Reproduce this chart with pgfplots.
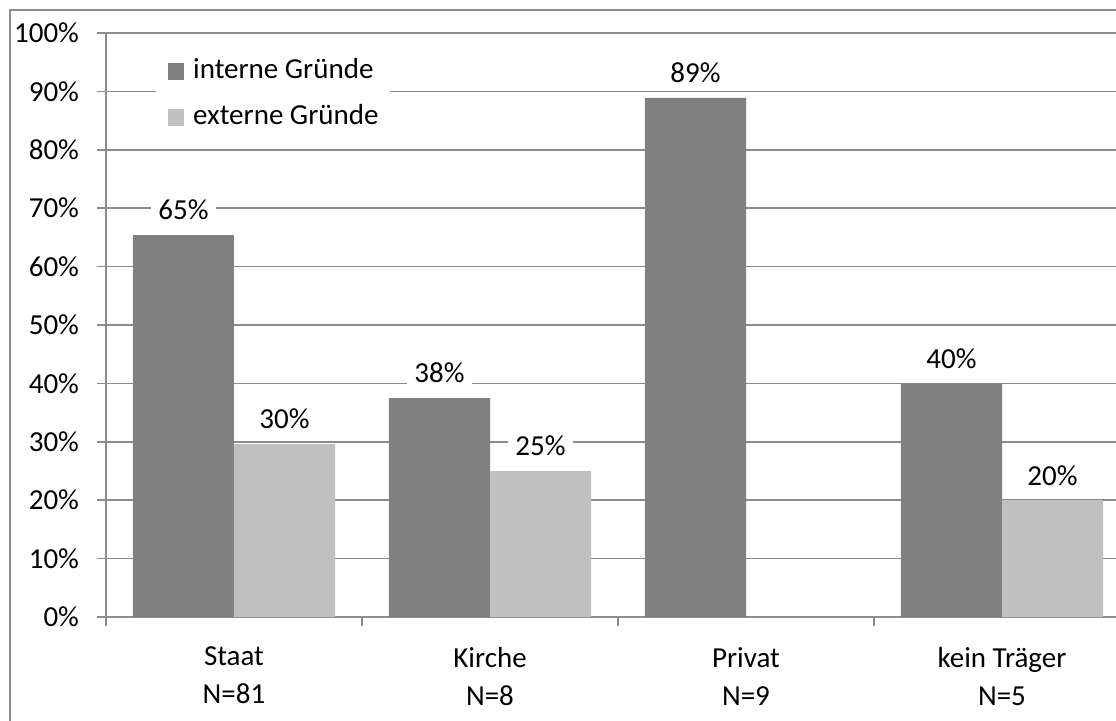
\documentclass[border=0pt]{standalone}
\usepackage{pgfplots}
\pgfplotsset{compat=1.18}
\usepackage{fontspec}
\setmainfont{Carlito}

\definecolor{intern}{RGB}{128,128,128}
\definecolor{extern}{RGB}{192,192,192}
\definecolor{gridgray}{RGB}{140,140,140}

\begin{document}
\begin{tikzpicture}[font=\fontsize{14.5}{19}\selectfont]
\useasboundingbox (0,0) rectangle (558pt,360pt);
% outer chart border (left and top; picture is cut on the right and bottom)
\draw[gridgray, line width=0.8pt] (5pt,-5pt) -- (5pt,355pt) -- (570pt,355pt);
\begin{axis}[
    at={(53pt,51.5pt)}, anchor=south west,
    scale only axis,
    width=512pt, height=292pt,
    ybar, ybar=0pt,
    bar width=0.395,
    xmin=-0.5, xmax=3.5,
    ymin=0, ymax=100,
    axis lines=left,
    axis line style={-, gridgray, line width=0.8pt},
    tick align=outside,
    major tick length=4.5pt,
    tick style={gridgray, line width=0.8pt},
    ymajorgrids,
    grid style={gridgray, line width=0.8pt},
    ytick={0,10,...,100},
    yticklabel={\pgfmathprintnumber{\tick}\%},
    yticklabel style={xshift=-5.5pt},
    /pgf/number format/assume math mode=true,
    xtick={-0.5,0.5,1.5,2.5,3.5},
    x tick label as interval,
    xticklabels={{Staat\\N=81},{Kirche\\N=8},{Privat\\N=9},{kein Träger\\N=5}},
    xticklabel style={align=center, yshift=-7pt},
    nodes near coords={\pgfmathprintnumber[fixed,precision=0]{\pgfplotspointmeta}\%},
    every node near coord/.append style={fill=white, inner xsep=3.5pt, inner ysep=4.4pt,
        text height=9.2pt, text depth=0pt, yshift=3pt, text=black},
    legend style={at={(0.048,0.979)}, anchor=north west, draw=none, fill=white,
        inner xsep=6pt, inner ysep=6.5pt, row sep=10pt, column sep=4.5pt,
        nodes={inner sep=0pt, text height=10pt, text depth=3pt, anchor=west}},
    legend cell align=left,
    legend image code/.code={\fill[#1,draw=none] (0pt,-4.15pt) rectangle (8.3pt,4.15pt);},
]
\addplot[fill=intern, draw=none] coordinates {(0,65.4) (1,37.5) (2,88.9) (3,40.0)};
\addplot[fill=extern, draw=none] coordinates {(0,29.6) (1,25.0) (3,20.0)};
\legend{interne Gründe, externe Gründe}
\end{axis}
\end{tikzpicture}
\end{document}
